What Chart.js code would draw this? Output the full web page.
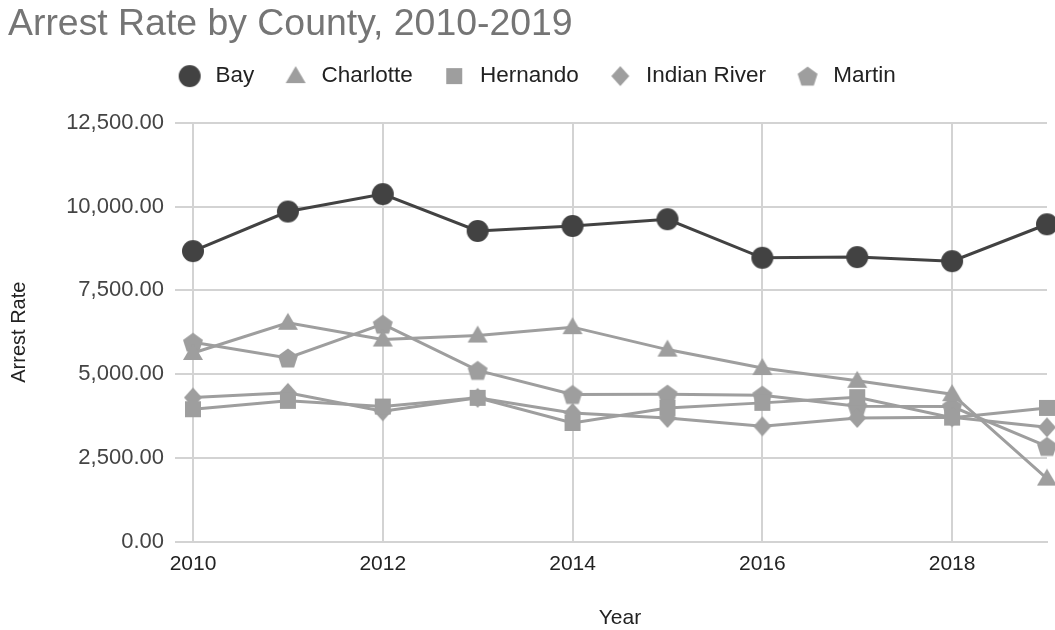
<!DOCTYPE html>
<html>
<head>
<meta charset="utf-8">
<script src="https://cdn.jsdelivr.net/npm/chart.js@4.4.1/dist/chart.umd.min.js"></script>
<style>
    body { margin: 0; background: #fff; }
    #wrap { width: 1055px; height: 630px; }
</style>
</head>
<body>
<div id="wrap"><canvas id="arrests" width="1055" height="630"></canvas></div>
<script>
// values
const years       = [2010, 2011, 2012, 2013, 2014, 2015, 2016, 2017, 2018, 2019];
const bay         = [8670, 9850, 10370, 9270, 9420, 9620, 8470, 8490, 8370, 9470];
const charlotte   = [5630, 6530, 6030, 6150, 6400, 5730, 5180, 4800, 4400, 1880];
const hernando    = [3950, 4200, 4030, 4290, 3540, 3990, 4140, 4310, 3700, 3990];
const indianRiver = [4300, 4440, 3890, 4290, 3840, 3690, 3440, 3690, 3710, 3410];
const martin      = [5950, 5480, 6490, 5110, 4390, 4400, 4370, 4040, 4030, 2840];
const xTicks      = [2010, 2012, 2014, 2016, 2018];
const yTicks      = [0, 2500, 5000, 7500, 10000, 12500];

const dark = '#424242';
const grey = '#9e9e9e';

// little canvases used as point styles (Chart.js has no pentagon)
function makeMarker(shape, color) {
    let c = document.createElement('canvas');
    let s = 24;
    c.width = s; c.height = s;
    let g = c.getContext('2d');
    let m = s / 2;
    g.fillStyle = color;
    g.beginPath();
    if (shape === 'circle') {
        g.arc(m, m, 11, 0, Math.PI * 2);
    } else if (shape === 'triangle') {
        g.moveTo(m, m - 10);
        g.lineTo(m + 10, m + 7);
        g.lineTo(m - 10, m + 7);
    } else if (shape === 'square') {
        g.rect(m - 8, m - 8, 16, 16);
    } else if (shape === 'diamond') {
        g.moveTo(m, m - 10);
        g.lineTo(m + 9, m);
        g.lineTo(m, m + 10);
        g.lineTo(m - 9, m);
    } else if (shape === 'pentagon') {
        for (let k = 0; k < 5; k++) {
            let a = -Math.PI / 2 + k * Math.PI * 2 / 5;
            let px = m + Math.cos(a) * 10.5;
            let py = m + 1 + Math.sin(a) * 10.5;
            if (k === 0) g.moveTo(px, py); else g.lineTo(px, py);
        }
    }
    g.closePath();
    g.fill();
    return c;
}

function points(values) {
    return years.map((y, i) => ({x: y, y: values[i]}));
}

function series(label, values, color, shape) {
    return {
        label: label,
        data: points(values),
        borderColor: color,
        backgroundColor: color,
        borderWidth: 3,
        pointStyle: makeMarker(shape, color),
        pointRadius: 11,
        tension: 0,
        clip: false
    };
}

// legend sits a little right of the canvas centre in the original
const nudgeLegend = {
    id: 'nudgeLegend',
    afterLayout: function (chart) {
        chart.legend.left += 8;
        chart.legend.right += 8;
    }
};

const font = 'Arial, "Liberation Sans", sans-serif';

var ctx = document.getElementById('arrests').getContext('2d');
var chart = new Chart(ctx, {
    type: 'line',
    data: {
        datasets: [
            series('Bay', bay, dark, 'circle'),
            series('Charlotte', charlotte, grey, 'triangle'),
            series('Hernando', hernando, grey, 'square'),
            series('Indian River', indianRiver, grey, 'diamond'),
            series('Martin', martin, grey, 'pentagon')
        ]
    },
    plugins: [nudgeLegend],
    options: {
        responsive: false,
        animation: false,
        layout: { autoPadding: false, padding: { left: 8, right: 8, top: 0, bottom: 0 } },
        plugins: {
            title: {
                display: true,
                text: 'Arrest Rate by County, 2010-2019',
                align: 'start',
                color: '#757575',
                font: { family: font, size: 37.4, weight: 'normal', lineHeight: 0.6 },
                padding: { top: 13.4, bottom: 2 }
            },
            // empty box under the legend, only to leave the gap above the plot
            subtitle: {
                display: true,
                text: '',
                weight: 500,
                font: { size: 10, lineHeight: 1 },
                padding: { top: 15.4, bottom: 0 }
            },
            legend: {
                position: 'top',
                labels: {
                    usePointStyle: true,
                    pointStyleWidth: 29,
                    boxHeight: 16,
                    padding: 27,
                    color: '#222',
                    font: { family: font, size: 22.5 }
                }
            },
            tooltip: { enabled: false }
        },
        scales: {
            x: {
                type: 'linear',
                min: years[0],
                max: years[years.length - 1],
                afterBuildTicks: function (scale) {
                    scale.ticks = xTicks.map(v => ({value: v}));
                },
                ticks: {
                    padding: 10,
                    color: '#222',
                    font: { family: font, size: 21 },
                    callback: v => String(v)
                },
                grid: { color: '#d3d3d3', lineWidth: 2, drawTicks: false },
                border: { color: '#d3d3d3', width: 2 },
                title: {
                    display: true,
                    text: 'Year',
                    color: '#222',
                    font: { family: font, size: 21 },
                    padding: { top: 19, bottom: -1 }
                }
            },
            y: {
                min: yTicks[0],
                max: yTicks[yTicks.length - 1],
                afterBuildTicks: function (scale) {
                    scale.ticks = yTicks.map(v => ({value: v}));
                },
                afterFit: function (scale) {
                    scale.width = 185;
                },
                ticks: {
                    padding: 11,
                    color: '#444',
                    font: { family: font, size: 22 },
                    callback: v => v.toLocaleString('en-US', {minimumFractionDigits: 2, maximumFractionDigits: 2})
                },
                grid: { color: '#d3d3d3', lineWidth: 2, tickLength: 18 },
                border: { display: false },
                title: {
                    display: true,
                    text: 'Arrest Rate',
                    color: '#222',
                    font: { family: font, size: 20 },
                    padding: { top: -1, bottom: 0 }
                }
            }
        }
    }
});
</script>
</body>
</html>
